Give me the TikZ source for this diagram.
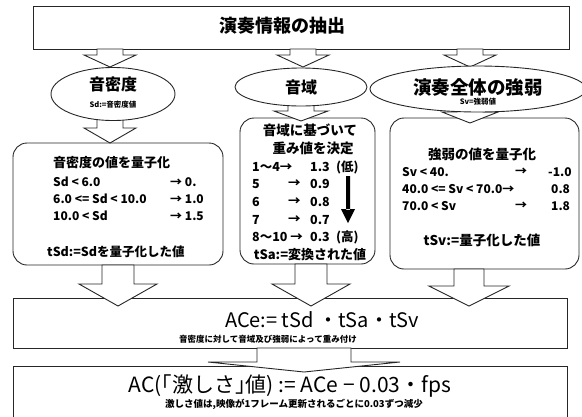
\documentclass[tikz,border=0pt]{standalone}
\usepackage{fontspec}
\setmainfont{Noto Sans CJK JP}
\usetikzlibrary{shapes.geometric}
\tikzset{
  frame/.style={draw=black!85, line width=0.9pt},
  sqbox/.style={frame, rectangle, inner sep=0pt},
  rbox/.style={frame, rectangle, rounded corners=14pt, inner sep=0pt},
  oval/.style={frame, ellipse, inner sep=0pt, fill=white},
  barr/.style={draw=black!85, line width=0.9pt, fill=white, line join=miter},
  txt/.style={inner sep=0pt, anchor=center},
  lt/.style={inner sep=0pt, anchor=west},
  fs/.style={font=\fontsize{#1}{#1}\selectfont},
  fb/.style={font=\fontsize{#1}{#1}\selectfont\bfseries},
}
\newcommand{\bArrow}[6]{\draw[barr] ({#1-#5},#2) -- ({#1+#5},#2) -- ({#1+#5},#3) -- ({#1+#6},#3) -- (#1,#4) -- ({#1-#6},#3) -- ({#1-#5},#3) -- cycle;}
\begin{document}
\begin{tikzpicture}[x=1pt,y=-1pt]
\useasboundingbox (0,0) rectangle (582,416);
\clip (0,0) rectangle (582,416);
% boxes
\node[sqbox, minimum width=536, minimum height=43] (top) at (301,27.5) {};
\node[rbox, minimum width=210, minimum height=122] (b1) at (118,204) {};
\node[rbox, minimum width=135, minimum height=146] (b2) at (307.5,191) {};
\node[rbox, minimum width=189, minimum height=151] (b3) at (484.5,193.5) {};
\node[sqbox, minimum width=554, minimum height=50] (ace) at (290,323) {};
\node[sqbox, minimum width=554, minimum height=60] (ac) at (290,396) {};
% block arrows
\bArrow{110}{49}{55}{67}{13}{26}
\bArrow{303}{49}{55}{67}{13}{26}
\bArrow{470}{49}{55}{67}{13}{26}
\bArrow{110}{112}{128}{143}{13}{26}
\bArrow{301}{100}{111}{121}{13}{27}
\bArrow{470}{105}{112}{123}{13}{28}
\bArrow{118}{265}{284}{306}{16}{39}
\bArrow{311}{264}{284}{306}{16}{39}
\bArrow{469}{269}{286}{306}{15}{40}
\bArrow{304}{348}{362}{372}{47}{96}
% ellipses
\node[oval, minimum width=124, minimum height=53] (e1) at (113,94) {};
\node[oval, minimum width=132, minimum height=38] (e2) at (301,87) {};
\node[oval, minimum width=216, minimum height=46] (e3) at (478,89) {};
% texts
\node[txt, fb=18] (title) at (282,26) {演奏情報の抽出};
\node[txt, fb=16] (e1a) at (113,84) {音密度};
\node[txt, fb=7.5] (e1b) at (113,105) {Sd:=音密度値};
\node[txt, fb=16] (e2a) at (301,87) {音域};
\node[txt, fb=18.5] (e3a) at (478,87) {演奏全体の強弱};
\node[txt, fb=7.5] (e3b) at (478,102) {Sv=強弱値};
% box 1
\node[lt, fb=13] (h1) at (53,163) {音密度の値を量子化};
\node[lt, fb=12] (r11) at (53,182) {Sd < 6.0};
\node[lt, fb=12] (v11) at (170,182) {→ 0.};
\node[lt, fb=12] (r12) at (53,199) {6.0 <= Sd < 10.0};
\node[lt, fb=12] (v12) at (170,199) {→ 1.0};
\node[lt, fb=12] (r13) at (53,216) {10.0 < Sd};
\node[lt, fb=12] (v13) at (170,216) {→ 1.5};
\node[lt, fb=12.5] (f1) at (47,252) {tSd:=Sdを量子化した値};
% box 2
\node[txt, fb=13.5] (h2a) at (310,130) {音域に基づいて};
\node[txt, fb=13.5] (h2b) at (313,148) {重み値を決定};
\node[lt, fb=12.5] (c21) at (252,167) {1～4→};
\node[lt, fb=12.5] (d21) at (310,167) {1.3};
\node[lt, fb=12.5] (p21) at (336,167) {(低)};
\node[lt, fb=12.5] (c22) at (252,184) {5};
\node[lt, fb=12.5] (a22) at (288,184) {→};
\node[lt, fb=12.5] (d22) at (310,184) {0.9};
\node[lt, fb=12.5] (c23) at (252,202) {6};
\node[lt, fb=12.5] (a23) at (288,202) {→};
\node[lt, fb=12.5] (d23) at (310,202) {0.8};
\node[lt, fb=12.5] (c24) at (252,220) {7};
\node[lt, fb=12.5] (a24) at (288,220) {→};
\node[lt, fb=12.5] (d24) at (310,220) {0.7};
\node[lt, fb=12.5] (c25) at (252,237) {8～10 →};
\node[lt, fb=12.5] (d25) at (310,237) {0.3};
\node[lt, fb=12.5] (p25) at (336,237) {(高)};
\node[txt, fb=13] (f2) at (310,255) {tSa:=変換された値};
\fill[black] (346,176) rectangle (350,210) (341,209) -- (355,209) -- (348,223) -- cycle;
% box 3
\node[txt, fb=13.5] (h3) at (482,154) {強弱の値を量子化};
\node[lt, fb=12] (r31) at (402,172) {Sv < 40.};
\node[lt, fb=12] (a31) at (515,172) {→};
\node[lt, fb=12] (v31) at (548,172) {-1.0};
\node[lt, fb=12] (r32) at (402,189) {40.0 <= Sv < 70.0→};
\node[lt, fb=12] (v32) at (551,189) {0.8};
\node[lt, fb=12] (r33) at (402,206) {70.0 < Sv};
\node[lt, fb=12] (a33) at (515,206) {→};
\node[lt, fb=12] (v33) at (551,206) {1.8};
\node[txt, fb=13.5] (f3) at (482,240) {tSv:=量子化した値};
% bottom
\node[txt, fs=20] (acet) at (322,320) {ACe:= tSd ・tSa・tSv};
\node[txt, fb=8.5] (aces) at (268,339) {音密度に対して音域及び強弱によって重み付け};
\node[txt, fs=21] (act) at (290,386) {AC(｢激しさ｣値) := ACe − 0.03・fps};
\node[txt, fb=9.5] (acs) at (294,404) {激しさ値は,映像が1フレーム更新されるごとに0.03ずつ減少};
\end{tikzpicture}
\end{document}
